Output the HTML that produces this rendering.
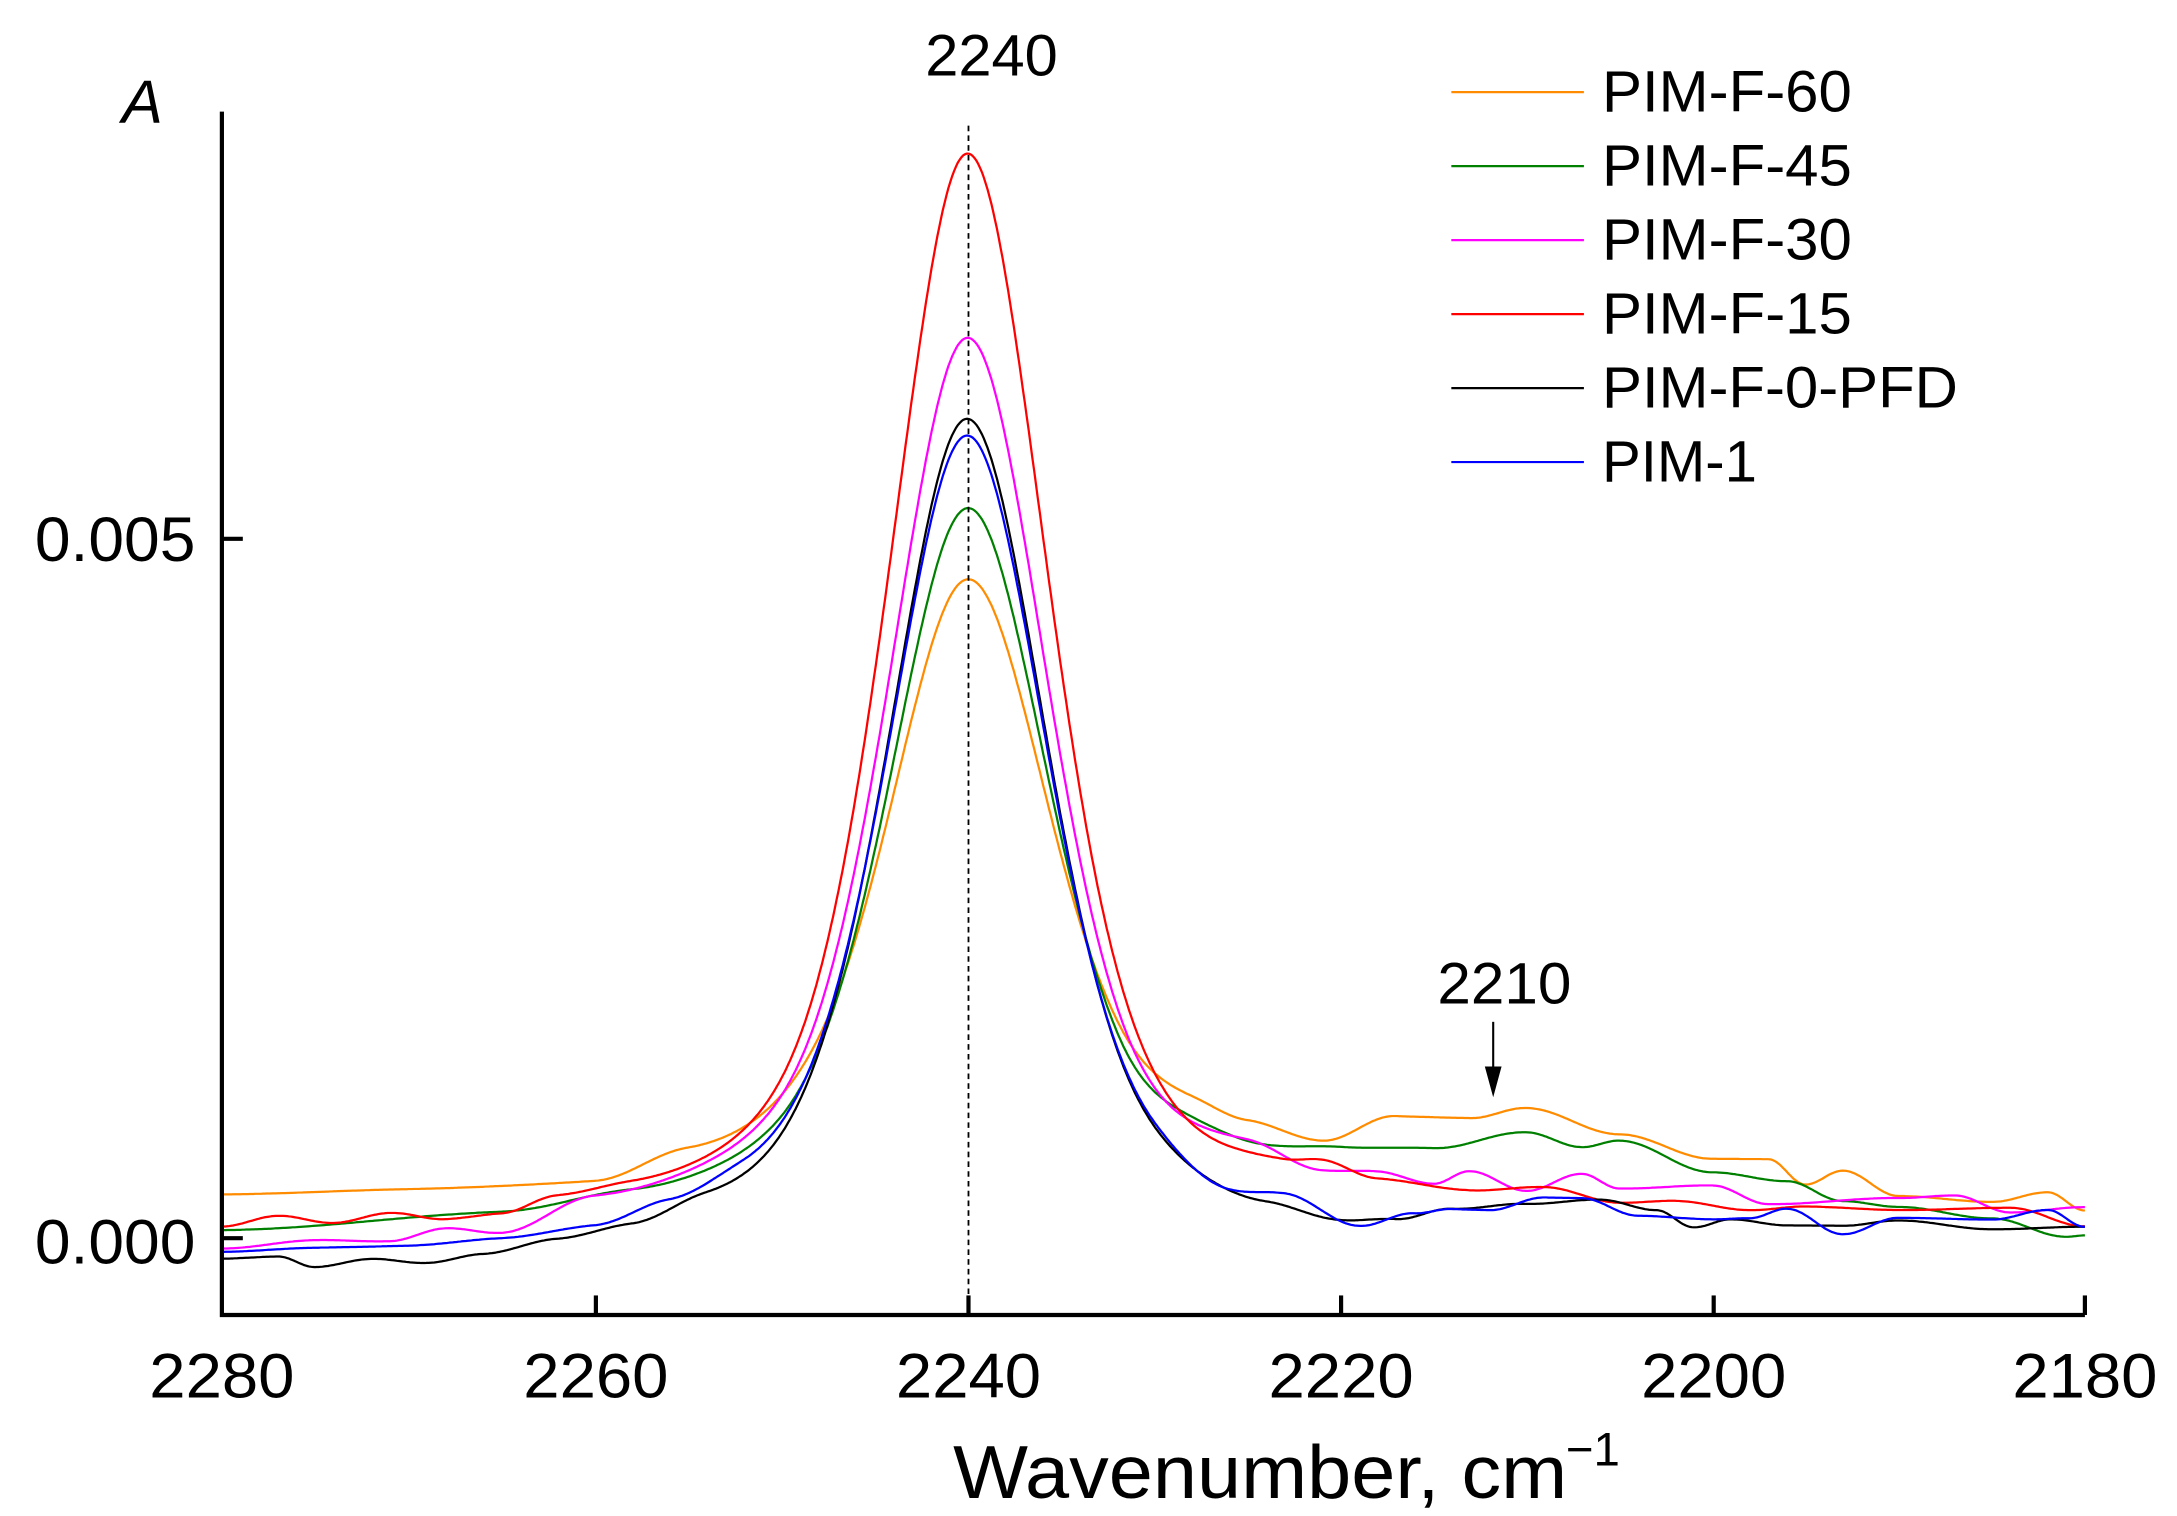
<!DOCTYPE html>
<html><head><meta charset="utf-8"><style>
html,body{margin:0;padding:0;background:#fff;}
svg{display:block;}
text{font-family:"Liberation Sans",Arial,sans-serif;fill:#000;}
</style></head><body>
<svg id="s" width="2177" height="1516" viewBox="0 0 1560 1086" preserveAspectRatio="none" xmlns="http://www.w3.org/2000/svg">
<rect width="1560" height="1086" fill="#fff"/>
<g id="curves" fill="none" stroke-width="1.6" stroke-linejoin="round"></g>
<line x1="694" y1="90" x2="694" y2="942" stroke="#000" stroke-width="1.3" stroke-dasharray="4,3"/>
<g stroke="#000" stroke-width="3" fill="none">
<polyline points="159,80 159,942 1494,942"/>
<line x1="427" y1="942" x2="427" y2="928"/><line x1="694" y1="942" x2="694" y2="928"/>
<line x1="961" y1="942" x2="961" y2="928"/><line x1="1228" y1="942" x2="1228" y2="928"/>
<line x1="1494" y1="942" x2="1494" y2="928"/>
<line x1="159" y1="386" x2="174" y2="386"/><line x1="159" y1="887" x2="174" y2="887"/>
</g>
<g font-size="45" text-anchor="middle" textLength="104">
<text x="159" y="1001" textLength="104" lengthAdjust="spacingAndGlyphs">2280</text>
<text x="427" y="1001" textLength="104" lengthAdjust="spacingAndGlyphs">2260</text>
<text x="694" y="1001" textLength="104" lengthAdjust="spacingAndGlyphs">2240</text>
<text x="961" y="1001" textLength="104" lengthAdjust="spacingAndGlyphs">2220</text>
<text x="1228" y="1001" textLength="104" lengthAdjust="spacingAndGlyphs">2200</text>
<text x="1494" y="1001" textLength="104" lengthAdjust="spacingAndGlyphs">2180</text>
</g>
<g font-size="45">
<text x="25" y="402" textLength="115" lengthAdjust="spacingAndGlyphs">0.005</text>
<text x="25" y="905" textLength="115" lengthAdjust="spacingAndGlyphs">0.000</text>
</g>
<text x="102" y="88" font-size="44" font-style="italic" text-anchor="middle">A</text>
<text x="663" y="54" font-size="42" textLength="95" lengthAdjust="spacingAndGlyphs">2240</text>
<text x="1030" y="719" font-size="42" textLength="96" lengthAdjust="spacingAndGlyphs">2210</text>
<line x1="1070" y1="732" x2="1070" y2="770" stroke="#000" stroke-width="1.5"/>
<polygon points="1064,764 1076,764 1070,786" fill="#000"/>
<text x="683" y="1073" font-size="54" textLength="440" lengthAdjust="spacingAndGlyphs">Wavenumber, cm</text>
<text x="1122" y="1050" font-size="34">−1</text>
<g stroke-width="1.6">
<line x1="1040" y1="66" x2="1135" y2="66" stroke="#ff8c00"/>
<line x1="1040" y1="119" x2="1135" y2="119" stroke="#008000"/>
<line x1="1040" y1="172" x2="1135" y2="172" stroke="#ff00ff"/>
<line x1="1040" y1="225" x2="1135" y2="225" stroke="#ff0000"/>
<line x1="1040" y1="278" x2="1135" y2="278" stroke="#000000"/>
<line x1="1040" y1="331" x2="1135" y2="331" stroke="#0000ff"/>
</g>
<g font-size="42">
<text x="1148" y="80" textLength="179" lengthAdjust="spacingAndGlyphs">PIM-F-60</text>
<text x="1148" y="133" textLength="179" lengthAdjust="spacingAndGlyphs">PIM-F-45</text>
<text x="1148" y="186" textLength="179" lengthAdjust="spacingAndGlyphs">PIM-F-30</text>
<text x="1148" y="239" textLength="179" lengthAdjust="spacingAndGlyphs">PIM-F-15</text>
<text x="1148" y="292" textLength="255" lengthAdjust="spacingAndGlyphs">PIM-F-0-PFD</text>
<text x="1148" y="345" textLength="111" lengthAdjust="spacingAndGlyphs">PIM-1</text>
</g>
</svg>
<script>
var S=[
{c:"#ff8c00",p:415,b:[[2280,858],[2270,856],[2260,855],[2255,838],[2248,830],[2232,812],[2228,808],[2225,815],[2221,825],[2217,805],[2213,805],[2210,797],[2205,815],[2200,832],[2197,832],[2195,850],[2193,840],[2190,858],[2185,862],[2182,855],[2180,868]]},
{c:"#008000",p:364,b:[[2280,884],[2265,875],[2258,865],[2250,855],[2232,835],[2228,827],[2224,833],[2220,830],[2215,828],[2210,815],[2207,825],[2205,820],[2200,842],[2196,848],[2193,862],[2190,866],[2185,874],[2181,887],[2180,886]]},
{c:"#ff00ff",p:242,b:[[2280,898],[2275,893],[2271,895],[2268,887],[2265,892],[2260,870],[2250,855],[2232,842],[2225,835],[2221,850],[2218,848],[2215,855],[2213,845],[2210,858],[2207,845],[2205,855],[2200,852],[2197,865],[2190,860],[2187,858],[2184,870],[2180,866]]},
{c:"#ff0000",p:110,b:[[2280,883],[2277,876],[2274,882],[2271,876],[2268,882],[2265,880],[2262,870],[2258,866],[2250,858],[2232,842],[2226,848],[2223,848],[2221,845],[2218,855],[2213,860],[2209,856],[2205,866],[2202,864],[2198,870],[2195,867],[2190,869],[2184,867],[2180,880]]},
{c:"#000000",p:300,b:[[2280,905],[2277,904],[2275,912],[2272,907],[2269,911],[2266,906],[2262,898],[2258,892],[2254,880],[2240,870],[2230,865],[2224,876],[2220,884],[2217,881],[2214,872],[2210,867],[2206,863],[2203,870],[2201,882],[2199,876],[2196,880],[2193,880],[2190,876],[2185,882],[2180,880]]},
{c:"#0000ff",p:312,b:[[2280,900],[2275,898],[2270,898],[2265,895],[2260,890],[2256,878],[2252,868],[2240,862],[2230,860],[2226,872],[2223,868],[2219,887],[2216,876],[2214,872],[2212,872],[2209,862],[2207,862],[2204,874],[2200,876],[2198,875],[2196,868],[2193,886],[2190,874],[2185,875],[2182,868],[2180,880]]}
];
function interp(b,w){
 for(var i=0;i<b.length-1;i++){var a=b[i],c=b[i+1];
  if(w<=a[0]&&w>=c[0]){var t=(a[0]-w)/(a[0]-c[0]);t=(1-Math.cos(Math.PI*t))/2;return a[1]+(c[1]-a[1])*t;}}
 return b[b.length-1][1];}
function shape(w){var d=w-2240,h=5.0;var g=Math.exp(-Math.LN2*(d/h)*(d/h));var l=1/(1+(d/h)*(d/h));var eta=d<0?0.3:0.38;return (1-eta)*g+eta*l;}
var G=document.getElementById("curves"),out="";
S.forEach(function(s){
 var base0=interp(s.b,2240),amp=base0-s.p,pts=[];
 for(var w=2280;w>=2180-1e-9;w-=0.1){var x=159+(2280-w)*13.35;var y=interp(s.b,w)-amp*shape(w);pts.push(x.toFixed(1)+","+y.toFixed(1));}
 out+='<polyline stroke="'+s.c+'" points="'+pts.join(" ")+'"/>';
});
G.innerHTML=out;
</script>
</body></html>
